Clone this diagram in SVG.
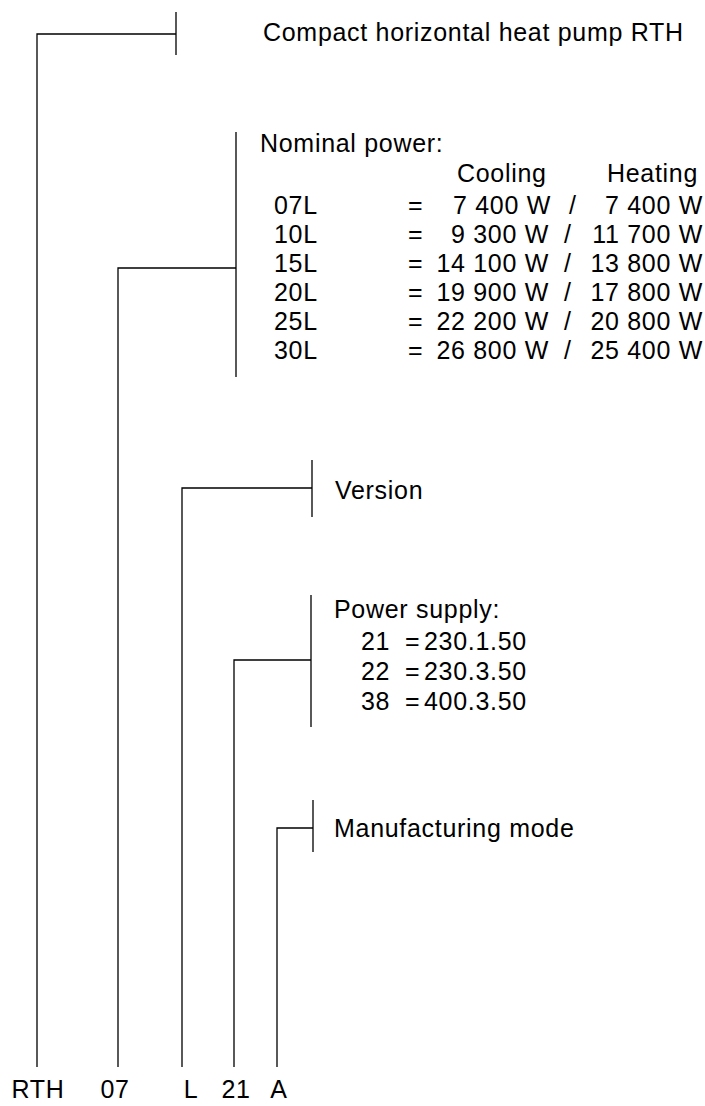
<svg xmlns="http://www.w3.org/2000/svg" width="705" height="1106" viewBox="0 0 705 1106">
<style>
text{font-family:"Liberation Sans",Arial,sans-serif;font-size:25px;letter-spacing:0.7px;fill:#000}
.c{stroke:#000;stroke-width:1.3;fill:none}
.e{text-anchor:end}
.m{text-anchor:middle}
</style>
<rect width="705" height="1106" fill="#fff"/>
<g id="connectors" class="c">
<path d="M37,1067V34H176M176,12V55"/>
<path d="M118,1067V268H236M236,132V377"/>
<path d="M182,1067V488H312M312,460V517"/>
<path d="M234,1067V660H311M311,595V727"/>
<path d="M277,1067V828H313M313,800V852"/>
</g>
<g id="n-type"><text x="263" y="41">Compact horizontal heat pump RTH</text></g>
<g id="n-power">
<text x="260" y="152">Nominal power:</text>
<text x="457" y="182">Cooling</text><text x="607" y="182">Heating</text>
<text x="274" y="214">07L</text><text x="408" y="214">=</text><text class="e" x="551" y="214">7 400 W</text><text x="569" y="214">/</text><text class="e" x="703" y="214">7 400 W</text>
<text x="274" y="243">10L</text><text x="408" y="243">=</text><text class="e" x="549" y="243">9 300 W</text><text x="564" y="243">/</text><text class="e" x="703" y="243">11 700 W</text>
<text x="274" y="272">15L</text><text x="408" y="272">=</text><text class="e" x="549" y="272">14 100 W</text><text x="564" y="272">/</text><text class="e" x="703" y="272">13 800 W</text>
<text x="274" y="301">20L</text><text x="408" y="301">=</text><text class="e" x="549" y="301">19 900 W</text><text x="564" y="301">/</text><text class="e" x="703" y="301">17 800 W</text>
<text x="274" y="330">25L</text><text x="408" y="330">=</text><text class="e" x="549" y="330">22 200 W</text><text x="564" y="330">/</text><text class="e" x="703" y="330">20 800 W</text>
<text x="274" y="359">30L</text><text x="408" y="359">=</text><text class="e" x="549" y="359">26 800 W</text><text x="564" y="359">/</text><text class="e" x="703" y="359">25 400 W</text>
</g>
<g id="n-version"><text x="335" y="499">Version</text></g>
<g id="n-supply">
<text x="334" y="618">Power supply:</text>
<text x="361" y="650">21</text><text x="405" y="650">=</text><text x="424" y="650">230.1.50</text>
<text x="361" y="680">22</text><text x="405" y="680">=</text><text x="424" y="680">230.3.50</text>
<text x="361" y="710">38</text><text x="405" y="710">=</text><text x="424" y="710">400.3.50</text>
</g>
<g id="n-mode"><text x="334" y="837">Manufacturing mode</text></g>
<g id="code">
<text class="m" x="38" y="1098">RTH</text>
<text class="m" x="115" y="1098">07</text>
<text class="m" x="191" y="1098">L</text>
<text class="m" x="236" y="1098">21</text>
<text class="m" x="279" y="1098">A</text>
</g>
</svg>
